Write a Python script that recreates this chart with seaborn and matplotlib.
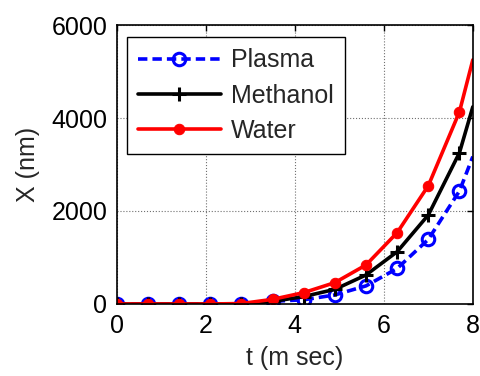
#!/usr/bin/env python3
import pandas as pd
import seaborn as sns
import matplotlib.pyplot as plt

# === Data ===
t = [0, 0.7, 1.4, 2.1, 2.8, 3.5, 4.2, 4.9, 5.6, 6.3, 7.0, 7.7, 8.0]
plasma = [0, 0, 0, 0, 0, 60, 90, 195, 390, 765, 1390, 2430, 3170]
methanol = [0, 0, 0, 0, 5, 55, 160, 315, 625, 1125, 1915, 3255, 4240]
water = [0, 0, 0, 0, 10, 100, 245, 460, 840, 1535, 2545, 4135, 5250]


def main():
    sns.set_style("white")
    plt.rcParams["font.family"] = ["Liberation Sans", "DejaVu Sans"]
    fs = 18

    df = pd.DataFrame({"t": t, "Plasma": plasma, "Methanol": methanol, "Water": water})

    fig = plt.figure(figsize=(4.81, 3.76), dpi=100)
    ax = fig.add_axes([0.243, 0.1915, 0.740, 0.742])

    # markers on the sampled points only, the line runs on to t = 8
    marks = list(range(len(t) - 1))
    lw = 2.6
    sns.lineplot(data=df, x="t", y="Plasma", ax=ax, color="#0000ff", linestyle=(0, (2.6, 1.4)),
                 linewidth=lw, marker="o", markersize=9, markerfacecolor="none",
                 markeredgecolor="#0000ff", markeredgewidth=2.2, markevery=marks,
                 label="Plasma")
    sns.lineplot(data=df, x="t", y="Methanol", ax=ax, color="black", linestyle="-",
                 linewidth=lw, marker="+", markersize=10, markeredgewidth=2.2,
                 markeredgecolor="black", markevery=marks, label="Methanol")
    sns.lineplot(data=df, x="t", y="Water", ax=ax, color="#ff0000", linestyle="-",
                 linewidth=lw, marker="o", markersize=7.5, markeredgecolor="#ff0000",
                 markerfacecolor="#ff0000", markevery=marks, label="Water")

    ax.set_xlim(0, 8)
    ax.set_ylim(0, 6000)
    ax.set_xticks([0, 2, 4, 6, 8])
    ax.set_yticks([0, 2000, 4000, 6000])
    ax.grid(True, color="#707070", linestyle=":", linewidth=0.8)
    for s in ax.spines.values():
        s.set_color("black")
        s.set_linewidth(1.2)
    ax.tick_params(direction="in", top=True, right=True, length=4, width=1,
                   labelsize=fs, colors="black")
    ax.tick_params(axis="x", pad=7)
    ax.tick_params(axis="y", pad=7)
    ax.set_xlabel("t (m sec)", fontsize=fs, labelpad=6)
    ax.set_ylabel("X (nm)", fontsize=fs, labelpad=8)

    leg = ax.legend(loc="upper left", bbox_to_anchor=(0.028, 0.957), borderaxespad=0,
                    fontsize=fs, fancybox=False, framealpha=1, edgecolor="black",
                    handlelength=3.3, handletextpad=0.4, labelspacing=0.45,
                    borderpad=0.45)
    leg.get_frame().set_linewidth(1)

    fig.savefig("out.png", dpi=100)
    plt.close(fig)


if __name__ == "__main__":
    main()
